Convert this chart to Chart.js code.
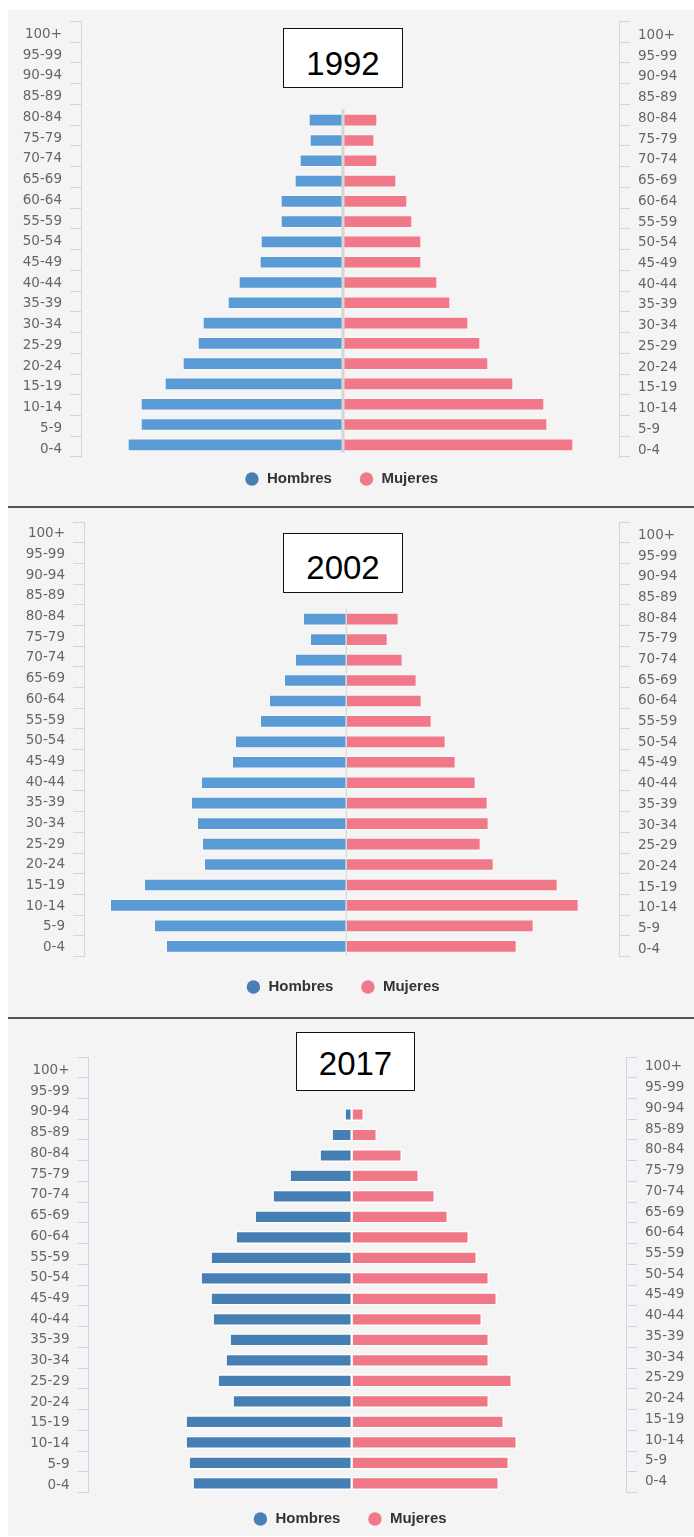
<!DOCTYPE html>
<html><head><meta charset="utf-8">
<script src="https://cdn.jsdelivr.net/npm/chart.js@4.4.1/dist/chart.umd.min.js"></script>
<style>
html,body{margin:0;padding:0;background:#fff;overflow:hidden;width:694px;height:1537px;position:relative;}
#bg{position:absolute;left:8px;top:10px;width:686px;height:1526px;background:#f4f4f4;}
.sep{position:absolute;left:8px;width:686px;height:2px;background:#555;}
canvas{position:absolute;left:0;}
.title{position:absolute;box-sizing:border-box;border:1.5px solid #111;background:#fff;z-index:5;}
.title span{position:absolute;left:0;right:0;text-align:center;font-family:'Liberation Sans',Arial,sans-serif;font-size:33px;line-height:33px;color:#000;}
</style></head><body>
<div id="bg"></div>
<div class="sep" style="top:505.5px"></div>
<div class="sep" style="top:1017.3px"></div>
<canvas id="c1" width="694" height="510" style="top:0px"></canvas>
<canvas id="c2" width="694" height="510" style="top:500px"></canvas>
<canvas id="c3" width="694" height="525" style="top:1020px"></canvas>
<div class="title" style="left:283px;top:28px;width:120px;height:60px"><span id="t1" style="top:17.7px"></span></div>
<div class="title" style="left:283px;top:533px;width:120px;height:60px"><span id="t2" style="top:17.4px"></span></div>
<div class="title" style="left:296px;top:1032px;width:119px;height:59px"><span id="t3" style="top:14.4px"></span></div>
<script>
// ---- data (top row first) ----
const categories = ['100+','95-99','90-94','85-89','80-84','75-79','70-74','65-69','60-64','55-59','50-54','45-49','40-44','35-39','30-34','25-29','20-24','15-19','10-14','5-9','0-4'];
const years = ['1992','2002','2017'];
const seriesNames = ['Hombres','Mujeres'];
const hombres1992 = [0,0,0,0,34,33,43,48,62,62,82,83,104,115,140,145,160,178,202,202,215];
const mujeres1992 = [0,0,0,0,34,31,34,53,64,69,78,78,94,107,125,137,145,170,201,204,230];
const hombres2002 = [0,0,0,0,43,36,51,62,77,86,111,114,145,155,149,144,142,202,236,192,180];
const mujeres2002 = [0,0,0,0,52,41,56,70,75,85,99,109,129,141,142,134,147,211,232,187,170];
const hombres2017 = [0,0,7,20,32,62,79,97,116,141,151,141,139,122,126,134,119,166,166,163,159];
const mujeres2017 = [0,0,12,25,50,67,83,96,117,125,137,145,130,137,137,160,137,152,165,157,147];

// ---- styles / layout ----
const legendBlue = '#4a7eb4', legendPink = '#f07a89';
const panels = [
  {id:'c1', year:years[0], h:hombres1992, m:mujeres1992, blue:'#5b9bd5', pink:'#f07888',
   border:'rgba(255,255,255,0.45)', bw:1, thick:12,
   pad:{top:21.5,bottom:1,left:0,right:11.4}, lw:81, rw:63.6, xmin:-262, xmax:276,
   ybmin:-0.865, ybmax:20.601, dy:12.5, lo:2.5, ro:3.5, line:{color:'#d6d6d6', width:3, above:11, below:8}},
  {id:'c2', year:years[1], h:hombres2002, m:mujeres2002, blue:'#5b9bd5', pink:'#f07888',
   border:'rgba(255,255,255,0.45)', bw:1, thick:12,
   pad:{top:22,bottom:1.5,left:0,right:8.5}, lw:84, rw:66.5, xmin:-262.3, xmax:272.7,
   ybmin:-0.753, ybmax:20.499, dy:4, lo:1.5, ro:3, line:{color:'#d2d2d2', width:1, above:11, below:10}},
  {id:'c3', year:years[2], h:hombres2017, m:mujeres2017, blue:'#467fb4', pink:'#f07786',
   border:'rgba(255,255,255,0.9)', bw:1.5, thick:12.5,
   pad:{top:37,bottom:0.5,left:5.5,right:0}, lw:83, rw:68, xmin:-263.2, xmax:274.3,
   ybmin:-0.8053, ybmax:20.449, dy:8, lo:3, ro:-0.5, line:null}
];

const centerLine = {
  id:'centerLine',
  afterDatasetsDraw(chart, args, opts){
    if (!opts || !opts.width) return;
    const ctx = chart.ctx, x = chart.scales.x.getPixelForValue(0), yb = chart.scales.yb;
    const ds = chart.data.datasets;
    let first = -1, last = -1;
    for (let i = 0; i < categories.length; i++) {
      if (ds.some(d => d.data[i] && d.data[i].x)) { if (first < 0) first = i; last = i; }
    }
    if (first < 0) return;
    ctx.save();
    ctx.strokeStyle = opts.color; ctx.lineWidth = opts.width;
    ctx.beginPath();
    ctx.moveTo(x, yb.getPixelForValue(first) - opts.above);
    ctx.lineTo(x, yb.getPixelForValue(last) + opts.below);
    ctx.stroke();
    ctx.restore();
  }
};
const legendShift = {
  id:'legendShift',
  afterLayout(chart, args, opts){
    const lg = chart.legend;
    if (lg && opts && opts.dy) { lg.top -= opts.dy; lg.bottom -= opts.dy; }
  }
};

const tickFont = {family:"'DejaVu Sans', sans-serif", size:13.5};
function labelAxis(position, width, offset){
  return {
    type:'category', labels:categories, position, offset:true,
    grid:{display:true, drawOnChartArea:false, drawTicks:true, tickLength:11, color:'#ccd6eb', offset:true},
    border:{display:true, color:'#ccd6eb', width:1},
    ticks:{color:'#666666', font:tickFont, padding:8, autoSkip:false, labelOffset:offset},
    afterFit(s){ s.width = width; }
  };
}

panels.forEach((p, k) => {
  document.getElementById('t' + (k + 1)).textContent = p.year;
  new Chart(document.getElementById(p.id), {
    type:'bar',
    data:{
      datasets:[
        {label:seriesNames[0], data:p.h.map((v,i)=>({x: v ? -v : null, y:i})),
         backgroundColor:p.blue, borderColor:p.border, borderWidth:p.bw, borderSkipped:false,
         barThickness:p.thick, xAxisID:'x', yAxisID:'yb'},
        {label:seriesNames[1], data:p.m.map((v,i)=>({x: v ? v : null, y:i})),
         backgroundColor:p.pink, borderColor:p.border, borderWidth:p.bw, borderSkipped:false,
         barThickness:p.thick, xAxisID:'x', yAxisID:'yb'}
      ]
    },
    options:{
      indexAxis:'y', responsive:false, animation:false, events:[],
      layout:{padding:p.pad},
      scales:{
        x:{type:'linear', display:false, stacked:true, min:p.xmin, max:p.xmax},
        yb:{type:'linear', display:false, stacked:true, reverse:true, offset:false, min:p.ybmin, max:p.ybmax},
        yl:labelAxis('left', p.lw, p.lo),
        yr:labelAxis('right', p.rw, p.ro)
      },
      plugins:{
        tooltip:{enabled:false},
        legend:{
          position:'bottom', align:'center',
          labels:{
            usePointStyle:true, boxHeight:9.5, padding:27, color:'#333333',
            font:{family:"'Liberation Sans', Arial, sans-serif", size:15, weight:'bold'},
            generateLabels:() => [
              {text:seriesNames[0], fillStyle:legendBlue, strokeStyle:legendBlue, lineWidth:0, pointStyle:'circle', hidden:false, datasetIndex:0, fontColor:'#333333'},
              {text:seriesNames[1], fillStyle:legendPink, strokeStyle:legendPink, lineWidth:0, pointStyle:'circle', hidden:false, datasetIndex:1, fontColor:'#333333'}
            ]
          }
        },
        centerLine:p.line || {},
        legendShift:{dy:p.dy}
      }
    },
    plugins:[centerLine, legendShift]
  });
});
</script>
</body></html>
